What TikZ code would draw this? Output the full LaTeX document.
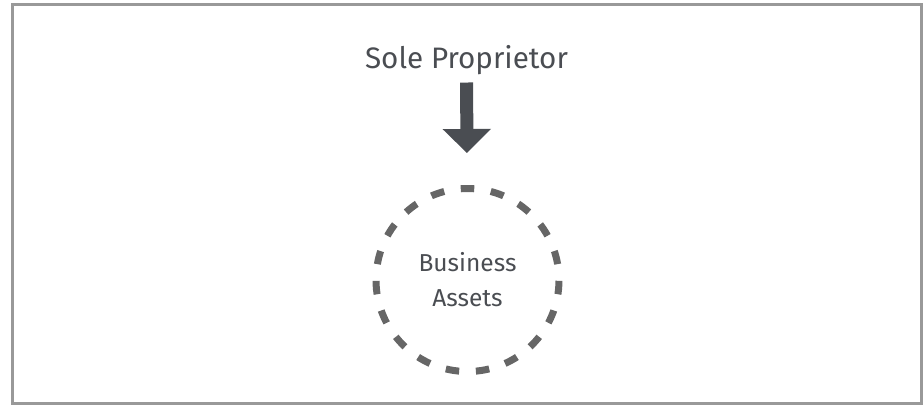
\documentclass[tikz,border=0pt]{standalone}
\usepackage{fontspec}
\setmainfont{Fira Sans}
\usetikzlibrary{arrows.meta}
\definecolor{inkgray}{HTML}{4A4D52}
\definecolor{dashgray}{HTML}{666666}
\definecolor{framegray}{HTML}{999999}

\begin{document}
\begin{tikzpicture}[x=1pt,y=-1pt]
\useasboundingbox (0,0) rectangle (924,405);
\coordinate (tl) at (12.5,4.7);
\coordinate (br) at (921,403);
 \draw[color=framegray, line width=3pt] (tl) rectangle (br);
 \node[anchor=base, inner sep=0pt, text=inkgray, font=\fontsize{29.6}{34}\selectfont] (owner) at (466.5,68) {Sole Proprietor};
 \node[circle, draw=dashgray, line width=7pt, minimum size=183pt, inner sep=0pt, outer sep=0pt,
       dash pattern=on 13.5pt off 16.76pt, dash phase=14.3pt,
       align=center, text=inkgray, font=\fontsize{24.5}{35}\selectfont] (assets) at (467.5,280) {Business\\Assets};
 \draw[-{Triangle[width=47pt,length=24pt]}, color=inkgray, line width=13pt, shorten <=8pt, shorten >=35.5pt] (owner) -- (assets);
\end{tikzpicture}
\end{document}
